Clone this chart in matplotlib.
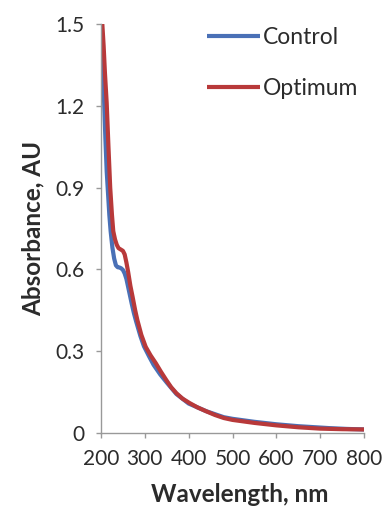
import matplotlib
matplotlib.use("Agg")
import matplotlib.pyplot as plt

plt.rcParams['font.family'] = ['Lato', 'DejaVu Sans']

# Data
control_wl = [201, 204, 207, 210, 213, 216, 219, 222, 226, 230, 234, 238, 242, 246, 250,
              254, 258, 262, 266, 270, 275, 280, 290, 298, 310, 320, 335, 350, 372,
              400, 440, 480, 500, 550, 600, 650, 700, 720, 760, 800]
control_abs = [1.50, 1.38, 1.22, 1.08, 0.96, 0.88, 0.80, 0.74, 0.68, 0.640, 0.615, 0.608, 0.607,
               0.604, 0.598, 0.585, 0.565, 0.535, 0.505, 0.475, 0.44, 0.41, 0.355, 0.318,
               0.28, 0.25, 0.215, 0.185, 0.143, 0.108, 0.080, 0.058, 0.052, 0.041, 0.032,
               0.025, 0.020, 0.018, 0.015, 0.013]

optimum_wl = [203, 206, 209, 213, 217, 221, 225, 228, 232, 236, 240, 245, 250, 254, 258,
              262, 267, 272, 278, 283, 292, 302, 313, 325, 337, 349, 360, 372, 386,
              402, 420, 441, 460, 480, 500, 550, 600, 650, 700, 750, 800]
optimum_abs = [1.50, 1.42, 1.32, 1.21, 1.05, 0.90, 0.80, 0.74, 0.71, 0.690, 0.678, 0.673,
               0.668, 0.655, 0.625, 0.590, 0.540, 0.500, 0.450, 0.414, 0.36, 0.316, 0.285,
               0.256, 0.224, 0.194, 0.168, 0.146, 0.126, 0.110, 0.094, 0.079, 0.066,
               0.055, 0.048, 0.037, 0.028, 0.021, 0.016, 0.014, 0.013]

x_ticks = [200, 300, 400, 500, 600, 700, 800]
y_ticks = [0, 0.3, 0.6, 0.9, 1.2, 1.5]
y_ticklabels = ['0', '0.3', '0.6', '0.9', '1.2', '1.5']

W, H = 387, 508
fig = plt.figure(figsize=(W / 100, H / 100), dpi=100)
ax = fig.add_axes([101 / W, 1 - 433 / H, 263 / W, 409 / H])

blue = '#4a70b6'
red = '#b8393a'
ax.plot(control_wl, control_abs, color=blue, lw=3.0, label='Control', solid_capstyle='butt')
ax.plot(optimum_wl, optimum_abs, color=red, lw=3.0, label='Optimum', solid_capstyle='butt')

ax.set_xlim(200, 800)
ax.set_ylim(0, 1.5)
ax.set_xticks(x_ticks)
ax.set_xticklabels([str(t) for t in x_ticks])
ax.set_yticks(y_ticks)
ax.set_yticklabels(y_ticklabels)

for s in ['top', 'right']:
    ax.spines[s].set_visible(False)
for s in ['left', 'bottom']:
    ax.spines[s].set_color('#999999')
    ax.spines[s].set_linewidth(1.0)

txt = '#2b2b2b'
ax.tick_params(axis='both', direction='out', length=3.6, width=1.0, color='#999999',
               labelsize=15, labelcolor=txt)
ax.tick_params(axis='x', pad=8)
ax.tick_params(axis='y', pad=8)

ax.set_xlabel('Wavelength, nm', fontsize=17.5, fontweight='bold', color=txt)
ax.xaxis.set_label_coords((240 - 101) / 263, (433 - 483) / 409)
ax.set_ylabel('Absorbance, AU', fontsize=17.5, fontweight='bold', color=txt)
ax.yaxis.set_label_coords((45 - 101) / 263, 0.5)

leg = ax.legend(loc='upper left', bbox_to_anchor=(207 / W, 1 - 27 / H),
                bbox_transform=fig.transFigure, frameon=False, borderpad=0,
                borderaxespad=0, fontsize=16.5, handlelength=2.3, handletextpad=0.15,
                labelspacing=1.3, labelcolor=txt)
for h in leg.get_lines():
    h.set_linewidth(3.0)

fig.savefig('out.png', dpi=100, facecolor='white')
